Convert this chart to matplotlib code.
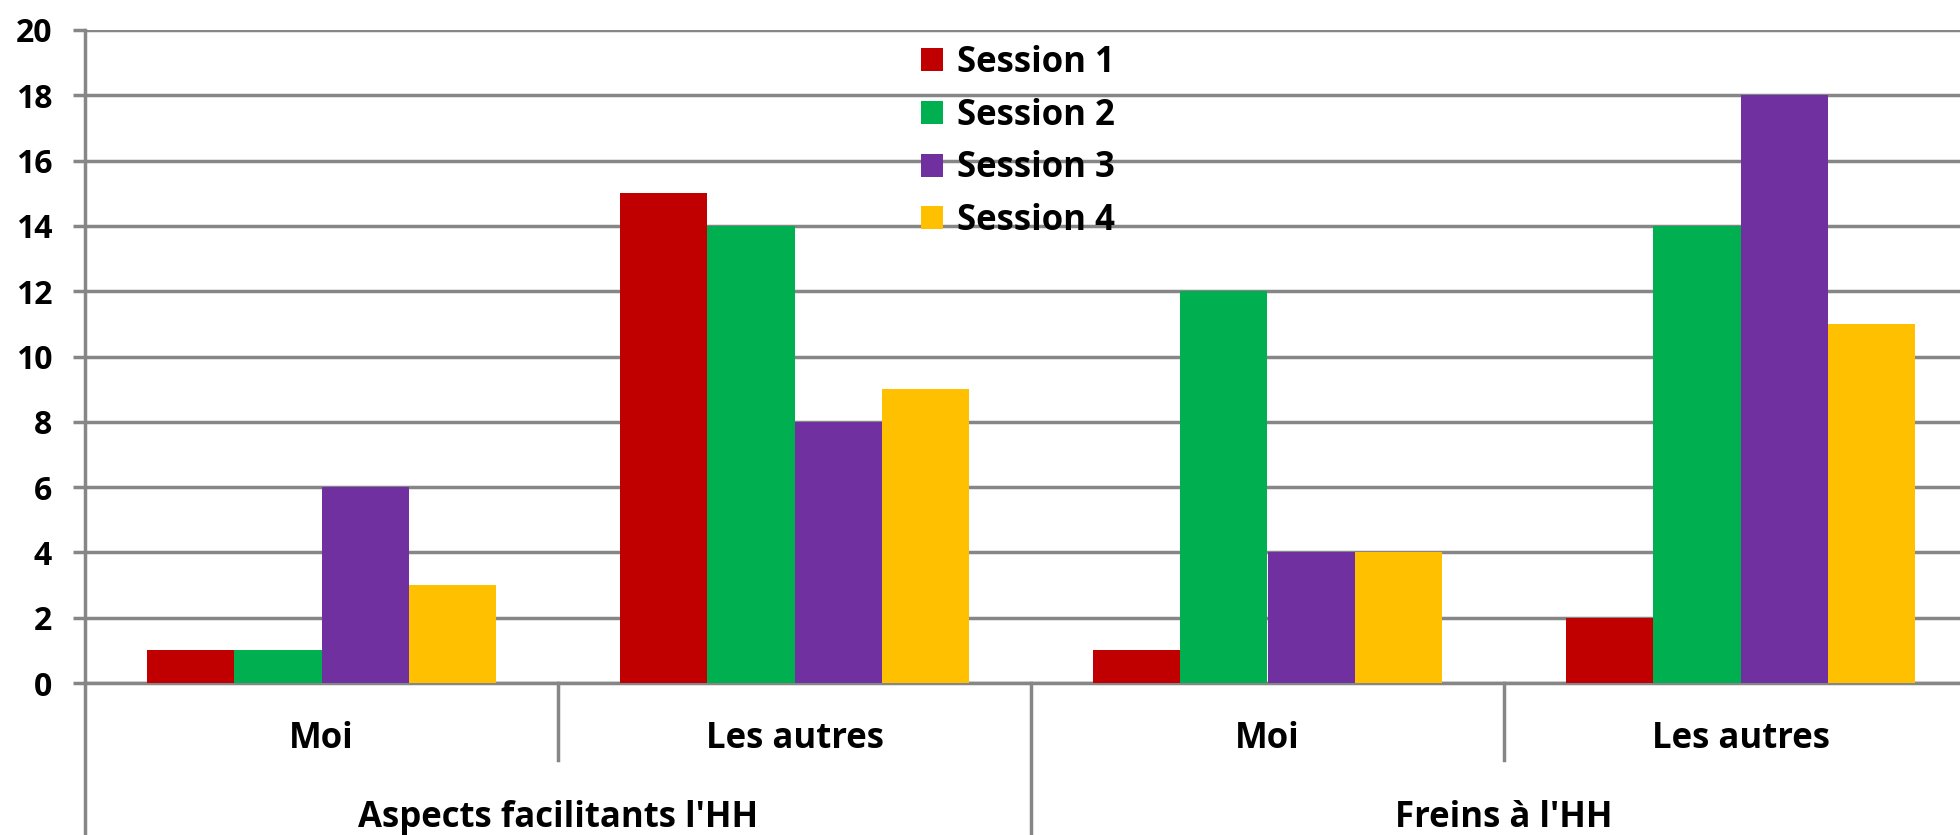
import numpy as np
import matplotlib
matplotlib.use('Agg')
import matplotlib.pyplot as plt
import matplotlib.transforms as mtransforms
from matplotlib.patches import Patch

# counts per session, in category order: Moi / Les autres / Moi / Les autres
session_1 = [1, 15, 1, 2]
session_2 = [1, 14, 12, 14]
session_3 = [6, 8, 4, 18]
session_4 = [3, 9, 4, 11]

series_names = ['Session 1', 'Session 2', 'Session 3', 'Session 4']
series_colors = ['#C00000', '#00B050', '#7030A0', '#FFC000']
sub_labels = ['Moi', 'Les autres', 'Moi', 'Les autres']
group_labels = ["Aspects facilitants l'HH", "Freins à l'HH"]
y_ticks = [0, 2, 4, 6, 8, 10, 12, 14, 16, 18, 20]

FONT = 'Open Sans'
GRID = '#868686'
LW = 2.5
W, H = 1960, 835

fig = plt.figure(figsize=(W / 100, H / 100), dpi=100)
# plot area runs past the right edge of the figure
ax = fig.add_axes([85 / W, 1 - 683 / H, (1977 - 85) / W, (683 - 30) / H])

series = [session_1, session_2, session_3, session_4]
x = np.arange(len(sub_labels))
bw = 0.184
for i, (vals, name, col) in enumerate(zip(series, series_names, series_colors)):
    ax.bar(x + (i - 1.5) * bw, vals, bw, color=col, label=name, zorder=3)

ax.set_xlim(-0.5, 3.5)
ax.set_ylim(0, 20)
ax.set_yticks(y_ticks)
ax.set_yticklabels([str(t) for t in y_ticks], fontname=FONT, fontweight='bold', fontsize=23)
ax.set_xticks([])
ax.yaxis.grid(True, color=GRID, lw=LW)
ax.set_axisbelow(True)
ax.tick_params(axis='y', length=8.6, width=LW, color=GRID, pad=15)
for s in ['top', 'right']:
    ax.spines[s].set_visible(False)
for s in ['left', 'bottom']:
    ax.spines[s].set_color(GRID)
    ax.spines[s].set_linewidth(LW)

# multi-level category axis below the plot
trans = mtransforms.blended_transform_factory(ax.transData, fig.transFigure)
y0 = 1 - 683 / H
for xb in [0.5, 2.5]:
    ax.plot([xb, xb], [y0, 1 - 760 / H], color=GRID, lw=LW, transform=trans, clip_on=False)
for xb in [-0.5, 1.5]:
    ax.plot([xb, xb], [y0, 0], color=GRID, lw=LW, transform=trans, clip_on=False)
for xi, lab in zip(x, sub_labels):
    ax.text(xi, 1 - 748 / H, lab, transform=trans, ha='center', va='baseline',
            fontname=FONT, fontweight='bold', fontsize=25)
for xi, lab in zip([0.5, 2.5], group_labels):
    ax.text(xi, 1 - 827 / H, lab, transform=trans, ha='center', va='baseline',
            fontname=FONT, fontweight='bold', fontsize=25)

handles = [Patch(facecolor=c, edgecolor='none') for c in series_colors]
fs = 25
sq = 22 / (fs * 100 / 72)
leg = ax.legend(handles, series_names, loc='upper left',
                bbox_to_anchor=(921 / W, 1 - 45 / H), bbox_transform=fig.transFigure,
                frameon=False, handlelength=sq, handleheight=sq, handletextpad=0.4,
                labelspacing=0.48, borderpad=0, borderaxespad=0,
                prop={'family': FONT, 'weight': 'bold', 'size': fs})

fig.savefig('out.png', dpi=100)
